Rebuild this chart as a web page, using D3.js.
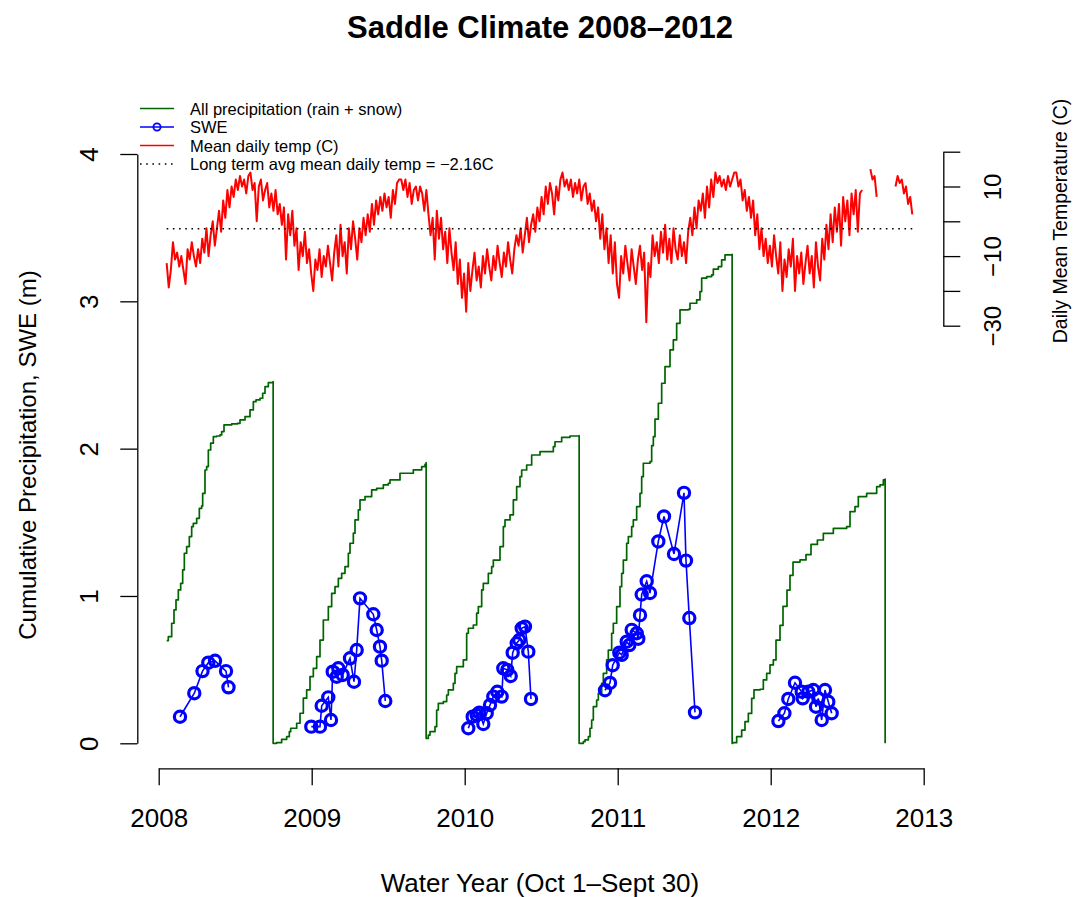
<!DOCTYPE html>
<html>
<head>
<meta charset="utf-8">
<script src="https://cdn.jsdelivr.net/npm/d3@7"></script>
<style>
  html, body { margin: 0; padding: 0; background: #fff; }
  svg { display: block; font-family: "Liberation Sans", Arial, Helvetica, sans-serif; }
</style>
</head>
<body>
<script>
// ---- Data -------------------------------------------------------------
// Cumulative precipitation per water year (Oct 1 - Sep 30), x in decimal years, metres
const precipYear = [
  2008.0521, 2008.0629, 2008.0848, 2008.1000, 2008.1131, 2008.1283, 2008.1436, 2008.1567, 2008.1675, 2008.1828,
  2008.2002, 2008.2155, 2008.2263, 2008.2482, 2008.2656, 2008.2808, 2008.2874, 2008.3026, 2008.3135, 2008.3244,
  2008.3397, 2008.3571, 2008.3789, 2008.4007, 2008.4116, 2008.4268, 2008.4769, 2008.5139, 2008.5314, 2008.5641,
  2008.5967, 2008.6185, 2008.6359, 2008.6621, 2008.6795, 2008.6948, 2008.7165, 2008.748,
  2008.748, 2008.7710, 2008.8037, 2008.8364, 2008.8538, 2008.8626, 2008.9018, 2008.9235, 2008.9453, 2008.9671,
  2008.9889, 2009.0106, 2009.0325, 2009.0542, 2009.0760, 2009.1087, 2009.1305, 2009.1523, 2009.1741, 2009.1959,
  2009.2176, 2009.2394, 2009.2503, 2009.2721, 2009.2830, 2009.3048, 2009.3157, 2009.3484, 2009.3920, 2009.4246,
  2009.4682, 2009.5009, 2009.5118, 2009.5771, 2009.6642, 2009.7188, 2009.7405, 2009.748,
  2009.748, 2009.7623, 2009.7732, 2009.8059, 2009.8168, 2009.8277, 2009.8603, 2009.8822, 2009.8931, 2009.9257,
  2009.9366, 2009.9475, 2009.9911, 2010.0129, 2010.0237, 2010.0564, 2010.0782, 2010.0891, 2010.1109, 2010.1217,
  2010.1544, 2010.1763, 2010.1871, 2010.2307, 2010.2525, 2010.2634, 2010.2961, 2010.3179, 2010.3397, 2010.3614,
  2010.3724, 2010.4050, 2010.4377, 2010.4922, 2010.5793, 2010.5902, 2010.6338, 2010.6882, 2010.748,
  2010.748, 2010.7754, 2010.7863, 2010.8081, 2010.8190, 2010.8299, 2010.8407, 2010.8625, 2010.8734, 2010.8952,
  2010.9061, 2010.9279, 2010.9387, 2010.9606, 2010.9714, 2010.9932, 2011.0150, 2011.0259, 2011.0368, 2011.0586,
  2011.0695, 2011.0913, 2011.1021, 2011.1240, 2011.1458, 2011.1567, 2011.1675, 2011.2111, 2011.2220, 2011.2329,
  2011.2438, 2011.2656, 2011.2874, 2011.3092, 2011.3418, 2011.3636, 2011.3854, 2011.4072, 2011.4616, 2011.4725,
  2011.5161, 2011.5378, 2011.5488, 2011.5815, 2011.6142, 2011.6250, 2011.6577, 2011.6795, 2011.7013, 2011.748,
  2011.748, 2011.7514, 2011.7776, 2011.8103, 2011.8320, 2011.8538, 2011.8756, 2011.8908, 2011.9301, 2011.9518,
  2011.9737, 2011.9954, 2012.0172, 2012.0347, 2012.0608, 2012.0804, 2012.1065, 2012.1261, 2012.1458, 2012.1915,
  2012.2307, 2012.2634, 2012.3052, 2012.3440, 2012.4094, 2012.4966, 2012.5183, 2012.5510, 2012.5727, 2012.6272,
  2012.6926, 2012.7144, 2012.7361, 2012.748, 2012.748
];
const precipCum = [
  0.697, 0.724, 0.815, 0.905, 0.973, 1.041, 1.086, 1.177, 1.290, 1.335,
  1.403, 1.471, 1.493, 1.527, 1.595, 1.611, 1.697, 1.855, 1.878, 1.991,
  2.037, 2.082, 2.086, 2.093, 2.116, 2.161, 2.168, 2.172, 2.195, 2.217,
  2.263, 2.319, 2.331, 2.342, 2.376, 2.421, 2.448, 2.455,
  0.000, 0.005, 0.027, 0.045, 0.079, 0.102, 0.136, 0.204, 0.306, 0.362,
  0.453, 0.509, 0.588, 0.701, 0.837, 0.928, 1.018, 1.063, 1.120, 1.154,
  1.199, 1.290, 1.358, 1.426, 1.516, 1.584, 1.652, 1.675, 1.720, 1.731,
  1.754, 1.765, 1.788, 1.833, 1.856, 1.878, 1.894, 1.906,
  0.034, 0.056, 0.079, 0.113, 0.226, 0.271, 0.283, 0.328, 0.362, 0.407,
  0.475, 0.520, 0.566, 0.747, 0.781, 0.803, 0.883, 0.928, 1.041, 1.086,
  1.154, 1.199, 1.244, 1.335, 1.471, 1.516, 1.550, 1.652, 1.742, 1.810,
  1.855, 1.889, 1.957, 1.980, 2.014, 2.047, 2.077, 2.086, 2.088,
  0.000, 0.011, 0.023, 0.045, 0.102, 0.158, 0.249, 0.294, 0.339, 0.407,
  0.475, 0.566, 0.633, 0.747, 0.815, 0.928, 1.063, 1.154, 1.244, 1.358,
  1.403, 1.471, 1.516, 1.607, 1.697, 1.810, 1.901, 1.912, 2.020, 2.081,
  2.200, 2.308, 2.444, 2.557, 2.670, 2.738, 2.851, 2.942, 2.946, 2.987,
  3.010, 3.066, 3.157, 3.168, 3.179, 3.218, 3.236, 3.281, 3.315, 3.319,
  0.000, 0.004, 0.045, 0.090, 0.147, 0.203, 0.305, 0.362, 0.367, 0.430,
  0.475, 0.532, 0.566, 0.700, 0.800, 0.930, 1.040, 1.140, 1.230, 1.245,
  1.280, 1.350, 1.380, 1.425, 1.459, 1.471, 1.573, 1.607, 1.675, 1.697,
  1.742, 1.754, 1.788, 1.793, 0.000
];

// Snow water equivalent survey points, metres
const sweYear = [
  2008.1392, 2008.2327, 2008.2863, 2008.3242, 2008.3680, 2008.4399, 2008.4562,
  2008.9974, 2009.0542, 2009.0654, 2009.1085, 2009.1261, 2009.1373, 2009.1634, 2009.1739, 2009.2026,
  2009.2503, 2009.2765, 2009.2941, 2009.3157, 2009.4026, 2009.4248, 2009.4464, 2009.4575, 2009.4810,
  2010.0235, 2010.0523, 2010.0784, 2010.0954, 2010.1216, 2010.1438, 2010.1654, 2010.1869, 2010.2131, 2010.2418,
  2010.2523, 2010.2784, 2010.3007, 2010.3137, 2010.3399, 2010.3569, 2010.3725, 2010.3941, 2010.4157, 2010.4333,
  2010.9170, 2010.9497, 2010.9673, 2011.0105, 2011.0261, 2011.0588, 2011.0758, 2011.0915, 2011.1242, 2011.1346,
  2011.1458, 2011.1569, 2011.1895, 2011.2111, 2011.2654, 2011.3026, 2011.3680, 2011.4333, 2011.4464, 2011.4680,
  2011.5052,
  2012.0504, 2012.0895, 2012.1150, 2012.1588, 2012.2026, 2012.2092, 2012.2458, 2012.2784, 2012.2961, 2012.3111,
  2012.3333, 2012.3549, 2012.3765, 2012.3987
];
const sweDepth = [
  0.18, 0.34, 0.49, 0.547, 0.56, 0.49, 0.38,
  0.113, 0.113, 0.255, 0.312, 0.158, 0.486, 0.452, 0.509, 0.464,
  0.577, 0.418, 0.633, 0.984, 0.876, 0.769, 0.656, 0.561, 0.287,
  0.102, 0.181, 0.192, 0.208, 0.131, 0.204, 0.26, 0.317, 0.35, 0.317,
  0.509, 0.498, 0.457, 0.615, 0.679, 0.701, 0.781, 0.792, 0.622, 0.301,
  0.36, 0.41, 0.53, 0.615, 0.60, 0.69, 0.667, 0.77, 0.747, 0.71,
  0.87, 1.01, 1.10, 1.02, 1.37, 1.54, 1.285, 1.70, 1.24, 0.85,
  0.21,
  0.151, 0.204, 0.301, 0.411, 0.35, 0.305, 0.35, 0.362, 0.248, 0.305,
  0.158, 0.362, 0.282, 0.204
];

// Mean daily temperature (C), one reading every 5 days from 20 Jan 2008; null = no data
const tempStart = 2008.052;
const tempStepDays = 5;
const tempMean = [
  -12, -19, -14, -6, -11, -9, -13, -10,
  -14, -18, -8, -11, -6, -10, -13, -8,
  -12, -5, -9, -2, -10, -4, 0, -7,
  -2, 3, -3, 6, 1, 9, 4, 10,
  7, 12, 9, 13, 10, 12, 8, 13,
  14, 9, 11, 0, 10, 12, 6, 9,
  11, 4, 8, 3, 9, 2, 5, -1,
  4, -11, 2, -4, 3, -7, -2, -14,
  -6, -10, -3, -12, -8, -15, -20, -11,
  -14, -8, -16, -10, -13, -7, -12, -17,
  -9, -4, -13, -1, -10, -6, -15, -2,
  -8, 0, -5, -11, -2, -6, 1, -4,
  2, -3, 5, -1, 6, 2, 7, 3,
  8, 4, 7, 1, 9, 5, 11, 12,
  12, 9, 12, 7, 11, 5, 9, 10,
  6, 10, 8, 3, 9, 2, -4, 1,
  -11, 3, -5, 1, -8, -3, -12, -2,
  -9, -14, -6, -18, -11, -22, -15, -26,
  -12, -20, -14, -9, -17, -13, -19, -10,
  -15, -8, -13, -17, -10, -14, -7, -12,
  -16, -9, -13, -6, -11, -15, -8, -4,
  -7, -2, -9, -4, 1, -6, -1, 2,
  -3, 4, 0, 7, 2, 10, 5, 11,
  8, 2, 10, 6, 12, 14, 10, 12,
  9, 12, 7, 11, 8, 12, 6, 10,
  11, 5, 8, 3, 6, 0, 4, -5,
  2, -8, -2, -12, -4, -15, -6, -18,
  -22, -10, -15, -7, -12, -17, -8, -13,
  -18, -11, -7, -14, -9, -29, -12, -16,
  -4, -10, -6, -12, -3, -9, -1, -11,
  -5, -12, -2, -8, -11, -4, -10, -6,
  -12, -3, 1, -4, 4, -2, 6, 3,
  8, 1, 10, 4, 12, 7, 14, 11,
  13, 10, 12, 9, 13, 10, 12, 14,
  14, 10, 12, 6, 9, 3, 7, 1,
  6, -4, 2, -8, -2, -10, -5, -12,
  -7, -13, -4, -10, -15, -6, -20, -11,
  -16, -8, -13, -5, -20, -10, -15, -9,
  -18, -12, -7, -15, -10, -19, -6, -13,
  -17, -5, -11, -1, -8, 2, -6, 4,
  -3, 5, -7, 7, 0, 6, -4, 8,
  2, 9, -3, 8, 9,
  null, null, null,
  15, 12, 13, 7,
  null, null, null, null, null, null, null, null,
  10, 13, 11, 12, 8, 10, 5, 7, 2
];
const tempLongTermMean = -2.16;

// Axis ticks and labels
const yearTicks = [2008, 2009, 2010, 2011, 2012, 2013];
const precipTicks = [0, 1, 2, 3, 4];
const tempTicks = [-30, -20, -10, 0, 10, 20];
const tempTickLabels = [-30, -10, 10];

const legendLabels = [
  "All precipitation (rain + snow)",
  "SWE",
  "Mean daily temp (C)",
  "Long term avg mean daily temp = \u22122.16C"
];

// ---- Layout -----------------------------------------------------------
const W = 1073, H = 897;
const colPrecip = "#006400", colSwe = "#0000ff", colTemp = "#ff0000";

const svg = d3.select("body").append("svg")
  .attr("width", W).attr("height", H);

const x = d3.scaleLinear().domain([2008, 2013]).range([158.7, 923.7]);
const y = d3.scaleLinear().domain([0, 4]).range([743.3, 154]);
const yT = d3.scaleLinear().domain([-30, 20]).range([325.7, 151.7]);

const minus = v => (v < 0 ? "\u2212" + Math.abs(v) : String(v));

// ---- Axes -------------------------------------------------------------
function styleAxis(g, size) {
  g.select(".domain").attr("stroke", "#000").attr("stroke-width", 1.3);
  g.selectAll(".tick line").attr("stroke", "#000").attr("stroke-width", 1.3);
  g.selectAll(".tick text").attr("fill", "#000").attr("font-size", size)
    .attr("font-family", "Liberation Sans, Arial, Helvetica, sans-serif");
}

// bottom: years
const gx = svg.append("g").attr("transform", "translate(0,768.3)")
  .call(d3.axisBottom(x).tickValues(yearTicks).tickFormat(d3.format("d"))
    .tickSize(17).tickSizeOuter(0));
styleAxis(gx, 26);
gx.selectAll(".tick text").attr("y", 827 - 768.3).attr("dy", 0);

// left: precipitation / SWE
const gy = svg.append("g").attr("transform", "translate(137.3,0)")
  .call(d3.axisLeft(y).tickValues(precipTicks).tickFormat(d3.format("d"))
    .tickSize(17).tickSizeOuter(0));
styleAxis(gy, 26);
gy.selectAll(".tick text")
  .attr("x", 0).attr("y", 0).attr("dy", 0)
  .attr("text-anchor", "middle")
  .attr("transform", "translate(-39.3,0) rotate(-90)");

// right: temperature
const gr = svg.append("g").attr("transform", "translate(943.3,0)")
  .call(d3.axisRight(yT).tickValues(tempTicks)
    .tickFormat(d => (tempTickLabels.includes(d) ? minus(d) : ""))
    .tickSize(17).tickSizeOuter(0));
styleAxis(gr, 24);
gr.selectAll(".tick text")
  .attr("x", 0).attr("y", 0).attr("dy", 0)
  .attr("text-anchor", "middle")
  .attr("transform", "translate(57.5,0) rotate(-90)");

// ---- Titles -----------------------------------------------------------
svg.append("text").attr("x", 540).attr("y", 38)
  .attr("text-anchor", "middle").attr("font-size", 31).attr("font-weight", "bold")
  .text("Saddle Climate 2008\u20132012");

svg.append("text").attr("x", 540).attr("y", 892)
  .attr("text-anchor", "middle").attr("font-size", 26)
  .text("Water Year (Oct 1\u2013Sept 30)");

svg.append("text")
  .attr("transform", "translate(36,455) rotate(-90)")
  .attr("text-anchor", "middle").attr("font-size", 24)
  .text("Cumulative Precipitation, SWE (m)");

svg.append("text")
  .attr("transform", "translate(1067,221) rotate(-90)")
  .attr("text-anchor", "middle").attr("font-size", 19.5)
  .text("Daily Mean Temperature (C)");

// ---- Temperature ------------------------------------------------------
const tempIdx = d3.range(tempMean.length);
const tempDate = i => tempStart + i * tempStepDays / 365.25;

const tempLine = d3.line()
  .defined(i => tempMean[i] != null)
  .x(i => x(tempDate(i)))
  .y(i => yT(tempMean[i]));

svg.append("path").attr("d", tempLine(tempIdx))
  .attr("fill", "none").attr("stroke", colTemp)
  .attr("stroke-width", 2).attr("stroke-linejoin", "round");

svg.append("line")
  .attr("x1", x(tempDate(0))).attr("x2", x(tempDate(tempMean.length - 1)))
  .attr("y1", yT(tempLongTermMean)).attr("y2", yT(tempLongTermMean))
  .attr("stroke", "#000").attr("stroke-width", 1.6)
  .attr("stroke-dasharray", "1.6,4.6").attr("stroke-linecap", "butt");

// ---- Cumulative precipitation -----------------------------------------
const precipLine = d3.line()
  .x(i => x(precipYear[i]))
  .y(i => y(precipCum[i]))
  .curve(d3.curveStepAfter);

svg.append("path").attr("d", precipLine(d3.range(precipYear.length)))
  .attr("fill", "none").attr("stroke", colPrecip)
  .attr("stroke-width", 1.7).attr("stroke-linejoin", "round");

// ---- SWE, one connected series per water year ---------------------------
const sweByYear = d3.group(d3.range(sweYear.length), i => Math.floor(sweYear[i] + 0.25));
const sweLine = d3.line().x(i => x(sweYear[i])).y(i => y(sweDepth[i]));

const gSwe = svg.append("g");
for (const [, idx] of sweByYear) {
  gSwe.append("path").attr("d", sweLine(idx))
    .attr("fill", "none").attr("stroke", colSwe).attr("stroke-width", 1.6);
}
gSwe.selectAll("circle").data(d3.range(sweYear.length)).join("circle")
  .attr("cx", i => x(sweYear[i])).attr("cy", i => y(sweDepth[i]))
  .attr("r", 5.6).attr("fill", "none")
  .attr("stroke", colSwe).attr("stroke-width", 3.2);

// ---- Legend -----------------------------------------------------------
const legend = svg.append("g");
const rowBase = [114.5, 133, 151.5, 170];
legend.selectAll("text").data(legendLabels).join("text")
  .attr("x", 190).attr("y", (d, i) => rowBase[i])
  .attr("font-size", 16.5).attr("fill", "#000").text(d => d);

const ly = i => rowBase[i] - 6;
legend.append("line").attr("x1", 140).attr("x2", 174).attr("y1", ly(0)).attr("y2", ly(0))
  .attr("stroke", colPrecip).attr("stroke-width", 1.7);
legend.append("line").attr("x1", 140).attr("x2", 174).attr("y1", ly(1)).attr("y2", ly(1))
  .attr("stroke", colSwe).attr("stroke-width", 1.7);
legend.append("circle").attr("cx", 157).attr("cy", ly(1)).attr("r", 3.6)
  .attr("fill", "none").attr("stroke", colSwe).attr("stroke-width", 1.8);
legend.append("line").attr("x1", 140).attr("x2", 174).attr("y1", ly(2)).attr("y2", ly(2))
  .attr("stroke", colTemp).attr("stroke-width", 1.7);
legend.append("line").attr("x1", 140).attr("x2", 174).attr("y1", ly(3)).attr("y2", ly(3))
  .attr("stroke", "#000").attr("stroke-width", 1.6)
  .attr("stroke-dasharray", "1.6,4.6");
</script>
</body>
</html>
